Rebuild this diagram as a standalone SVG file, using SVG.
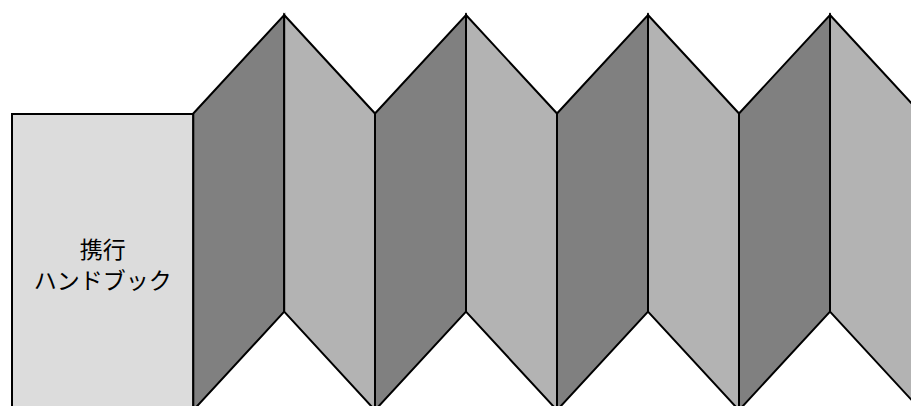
<svg xmlns="http://www.w3.org/2000/svg" width="911" height="406" viewBox="0 0 911 406">
<style>
.ln{stroke:#000;stroke-width:2;stroke-linejoin:miter}
.cover{fill:#dcdcdc}
.dk{fill:#808080}
.lt{fill:#b3b3b3}
.t{font-family:"Noto Sans CJK JP","Noto Sans",sans-serif;font-size:23px;fill:#000;text-anchor:middle}
</style>
<rect width="911" height="406" fill="#fff"/>
<g id="cover">
<rect class="cover ln" x="12" y="114" width="181.3" height="310"/>
<text class="t" x="102.7" y="258">携行</text>
<text class="t" x="102.7" y="289">ハンドブック</text>
</g>
<g id="panel1"><polygon class="dk ln" points="193.3,113.5 284.2,15 284.2,311.7 193.3,410.2"/></g>
<g id="panel2"><polygon class="lt ln" points="284.2,15 375,113.5 375,410.2 284.2,311.7"/></g>
<g id="panel3"><polygon class="dk ln" points="375,113.5 466,15 466,311.7 375,410.2"/></g>
<g id="panel4"><polygon class="lt ln" points="466,15 557,113.5 557,410.2 466,311.7"/></g>
<g id="panel5"><polygon class="dk ln" points="557,113.5 648,15 648,311.7 557,410.2"/></g>
<g id="panel6"><polygon class="lt ln" points="648,15 739,113.5 739,410.2 648,311.7"/></g>
<g id="panel7"><polygon class="dk ln" points="739,113.5 830,15 830,311.7 739,410.2"/></g>
<g id="panel8"><polygon class="lt ln" points="830,15 921,113.5 921,410.2 830,311.7"/></g>
<g id="connectors"></g>
</svg>
